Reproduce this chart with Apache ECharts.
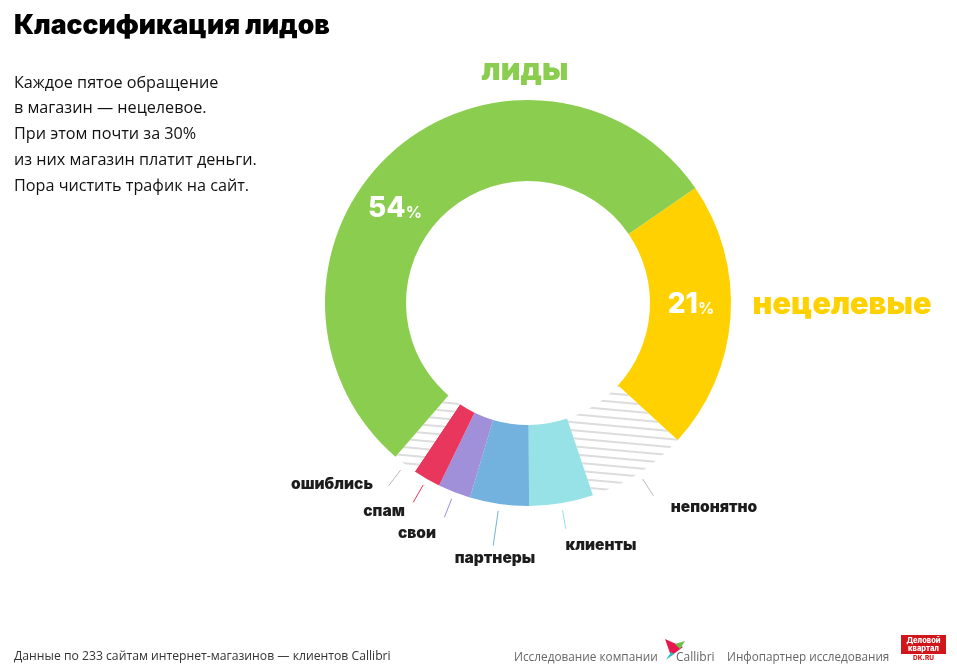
<!DOCTYPE html>
<html><head><meta charset="utf-8">
<style>html,body{margin:0;padding:0;background:#fff}#c{width:957px;height:666px}</style>
<script src="https://cdn.jsdelivr.net/npm/echarts@6/dist/echarts.min.js"></script></head>
<body><div id="c"></div>
<script>
const sliceNames = ['нецелевые','непонятно','клиенты','партнеры','свои','спам','ошиблись','лиды'];
const sliceValues = [21.4, 8.0, 5.1, 4.7, 2.6, 2.2, 1.9, 54.1];
const sliceColors = ['#ffd100','hatch','#97e2e6','#73b2df','#a08fd9','#e8365d','hatch','#8bcd4e'];
const leaderColors = ['','#bbbbbb','#97e2e6','#73b2df','#a08fd9','#e8365d','#bbbbbb',''];
const labelColors = ['#ffd100','#1c1c1c','#1c1c1c','#1c1c1c','#1c1c1c','#1c1c1c','#1c1c1c','#8bcd4e'];
const percentLabels = {'лиды':'54','нецелевые':'21'};
const startAngle = 34.5;
const R0=122,R1=203;
const center=[528,303];

const hatch={color:'#ffffff',decal:{symbol:'rect',color:'#dcdcdc',backgroundColor:'#ffffff',dashArrayX:[1,0],dashArrayY:[2,6],symbolSize:1,rotation:0.09}};

const mainData=sliceNames.map((n,i)=>({name:n,value:sliceValues[i],
  itemStyle:sliceColors[i]==='hatch'?hatch:{color:sliceColors[i]},
  label:percentLabels[n]?{show:true}:{show:false}}));

const leaderLen={'непонятно':20,'клиенты':19,'партнеры':35,'свои':20,'спам':20,'ошиблись':20};
const leaderData=sliceNames.map((n,i)=>leaderLen[n]?{name:n,value:sliceValues[i],
   labelLine:{show:true,length:leaderLen[n],length2:0,lineStyle:{color:leaderColors[i],width:1}},
   label:{show:true,formatter:' '}}:
   {name:n,value:sliceValues[i],label:{show:false},labelLine:{show:false}});

const textData=sliceNames.map((n,i)=>({name:n,value:sliceValues[i],label:{color:labelColors[i]}}));
const textSpots={'лиды':[525,71,30.5],'нецелевые':[842,305,30.5],'непонятно':[714,507,15.5],'клиенты':[601,545,15.5],
  'партнеры':[495,558,15.5],'свои':[417,533,15.5],'спам':[384,511,15.5],'ошиблись':[332,484,15.5]};

const chart=echarts.init(document.getElementById('c'),null,{renderer:'canvas'});
const bodyFont='"Open Sans","Noto Sans",sans-serif';
const bodyLines=['Каждое пятое обращение','в магазин — нецелевое.','При этом почти за 30%','из них магазин платит деньги.','Пора чистить трафик на сайт.'];
chart.setOption({
 animation:false,
 backgroundColor:'#fff',
 title:[
  {text:'Классификация лидов',left:14,top:13,padding:0,textStyle:{fontFamily:'Inter',fontWeight:900,fontSize:26.5,color:'#000'}},
  {text:bodyLines.join('\n'),left:14,top:70,padding:0,textStyle:{fontFamily:bodyFont,fontWeight:400,fontSize:16.2,lineHeight:25.8,color:'#111'}},
  {text:'Данные по 233 сайтам интернет-магазинов — клиентов Callibri',left:14,top:651,padding:0,textStyle:{fontFamily:bodyFont,fontWeight:400,fontSize:12.2,color:'#333'}},
  {text:'Исследование компании',left:514,top:652,padding:0,textStyle:{fontFamily:bodyFont,fontWeight:400,fontSize:11.8,color:'#666'}},
  {text:'Callibri',left:676,top:652,padding:0,textStyle:{fontFamily:bodyFont,fontWeight:400,fontSize:12,color:'#666'}},
  {text:'Инфопартнер исследования',left:727,top:652,padding:0,textStyle:{fontFamily:bodyFont,fontWeight:400,fontSize:11.7,color:'#666'}}
 ],
 series:[
  {type:'pie',radius:[R0,R1],center,startAngle,clockwise:true,silent:true,avoidLabelOverlap:false,
   data:mainData,
   label:{position:'inside',formatter:p=>'{a|'+percentLabels[p.name]+'}{b|%}',
     rich:{a:{fontFamily:'Inter',fontWeight:800,fontSize:28,color:'#fff'},b:{fontFamily:'Inter',fontWeight:700,fontSize:16,color:'#fff',padding:[8,0,0,0]}}},
   labelLine:{show:false},
   labelLayout:p=>{const d=sliceNames[p.dataIndex];
     return d==='лиды'?{x:395,y:209,align:'center',verticalAlign:'middle'}:d==='нецелевые'?{x:691,y:305,align:'center',verticalAlign:'middle'}:{};}
  },
  {type:'pie',radius:[210,210],center,startAngle,silent:true,avoidLabelOverlap:false,
   itemStyle:{color:'transparent'},data:leaderData,label:{position:'outside',fontSize:1,color:'transparent'},emphasis:{disabled:true}},
  {type:'pie',radius:[210,210],center,startAngle,silent:true,avoidLabelOverlap:false,
   itemStyle:{color:'transparent'},data:textData,labelLine:{show:false},
   label:{show:true,position:'outside',formatter:'{b}',fontFamily:'Inter',fontWeight:900,fontSize:15},
   labelLayout:p=>{const s=textSpots[sliceNames[p.dataIndex]];
     return {x:s[0],y:s[1],align:'center',verticalAlign:'middle',fontSize:s[2]};},
   emphasis:{disabled:true}}
 ],
 graphic:[
  {type:'polygon',shape:{points:[[665,639],[683,647],[671,656]]},style:{fill:'#e8174f'}},
  {type:'polygon',shape:{points:[[671,652],[674,654],[666,660]]},style:{fill:'#2cc1c9'}},
  {type:'polygon',shape:{points:[[675,644],[685,641],[680,649]]},style:{fill:'#6cc04a'}},
  {type:'rect',shape:{x:901,y:635,width:45,height:19},style:{fill:'#d0161b'}},
  {type:'text',x:923.5,y:644.5,style:{text:'Деловой\nквартал',align:'center',verticalAlign:'middle',fill:'#fff',font:'800 7.5px Inter',lineHeight:7.5}},
  {type:'text',x:923.5,y:658.5,style:{text:'DK.RU',align:'center',verticalAlign:'middle',fill:'#d0161b',font:'800 6.5px Inter'}}
 ]
});
</script></body></html>
